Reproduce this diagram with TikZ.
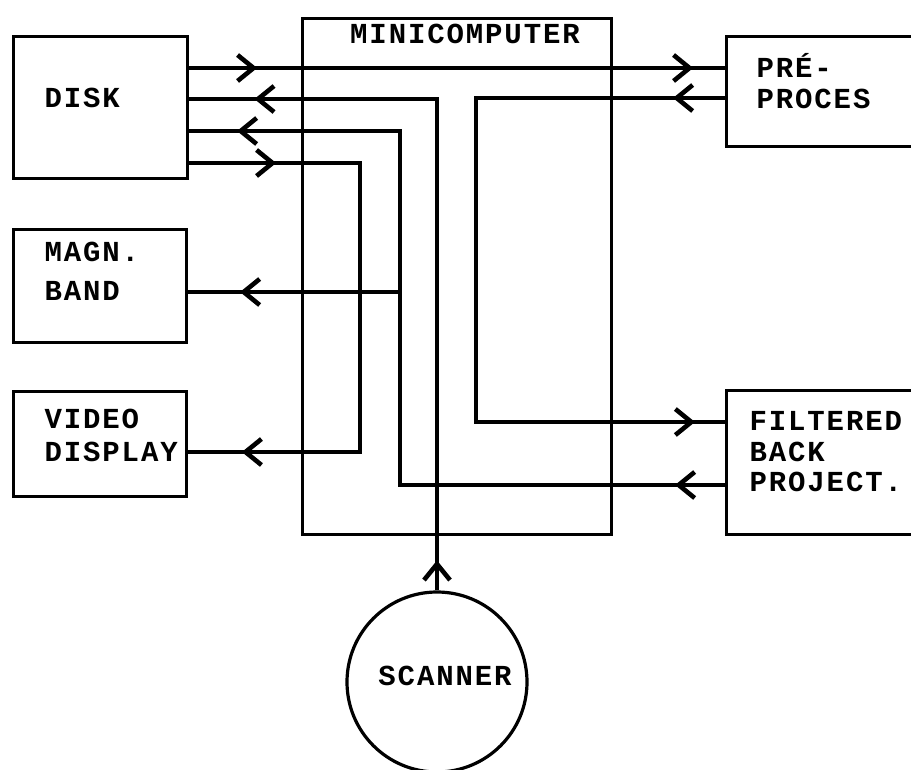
\documentclass[tikz,border=0pt]{standalone}
\usepackage{fontspec}
\newfontfamily\tw[LetterSpace=6.5]{Liberation Mono}
\usetikzlibrary{arrows.meta,decorations.markings}
\begin{document}
\begin{tikzpicture}[x=1pt,y=-1pt, line width=3.2pt,
  box/.style={draw, rectangle, inner sep=0pt, anchor=north west},
  lbl/.style={font={\tw\bfseries\fontsize{29}{35}\selectfont}, inner sep=0pt, anchor=base west},
  >={Straight Barb[length=16pt,width=26pt,line width=4.6pt]},
  ma/.style={postaction={decorate,decoration={markings,mark=at position #1pt with {\arrow{>}}}}}]
\useasboundingbox (0,0) rectangle (911,769);
% boxes
\node[box, minimum width=174pt, minimum height=142pt] (disk) at (12,35) {};
\node[box, minimum width=173pt, minimum height=113pt] (magn) at (12,228) {};
\node[box, minimum width=173pt, minimum height=105pt] (video) at (12,390) {};
\node[box, minimum width=309pt, minimum height=516pt] (mini) at (301,17) {};
\node[box, minimum width=210pt, minimum height=110pt] (pre) at (725,35) {};
\node[box, minimum width=210pt, minimum height=144pt] (fbp) at (725,389) {};
\node[draw, circle, minimum size=180pt, inner sep=0pt] (scan) at (437,682) {};
% labels
\node[lbl] (tdisk) at (43,107) {DISK};
\node[lbl] (tmagn) at (43,261) {MAGN.};
\node[lbl] (tband) at (43,300) {BAND};
\node[lbl] (tvid) at (43,428) {VIDEO};
\node[lbl] (tdisp) at (43,461) {DISPLAY};
\node[lbl] (tpre) at (755,77) {PRÉ-};
\node[lbl] (tproc) at (755,108) {PROCES};
\node[lbl] (tfil) at (748,430) {FILTERED};
\node[lbl] (tback) at (748,461) {BACK};
\node[lbl] (tproj) at (748,491) {PROJECT.};
\node[lbl, anchor=base] (tmini) at (465,43) {MINICOMPUTER};
\node[lbl, anchor=base] (tscan) at (445,685) {SCANNER};
% routing points
\coordinate (yA) at (0,68);
\coordinate (bB) at (437,99);
\coordinate (cT) at (476,98);
\coordinate (cB) at (476,422);
\coordinate (dB) at (400,485);
\coordinate (dT) at (400,131);
\coordinate (dM) at (400,292);
\coordinate (eT) at (360,163);
\coordinate (eB) at (360,452);
% connectors
\draw[ma=68, ma=504] (disk.east |- yA) -- (pre.west |- yA);
\draw[ma=30, ma=674] (scan.north) -- (bB) -- (disk.east |- bB);
\draw[ma=52, ma=792] (pre.west |- cT) -- (cT) -- (cB) -- (fbp.west |- cB);
\draw[ma=50, ma=842] (fbp.west |- dB) -- (dB) -- (dT) -- (disk.east |- dT);
\draw[ma=160] (dM) -- (magn.east |- dM);
\draw[ma=87, ma=578] (disk.east |- eT) -- (eT) -- (eB) -- (video.east |- eB);
\end{tikzpicture}
\end{document}
